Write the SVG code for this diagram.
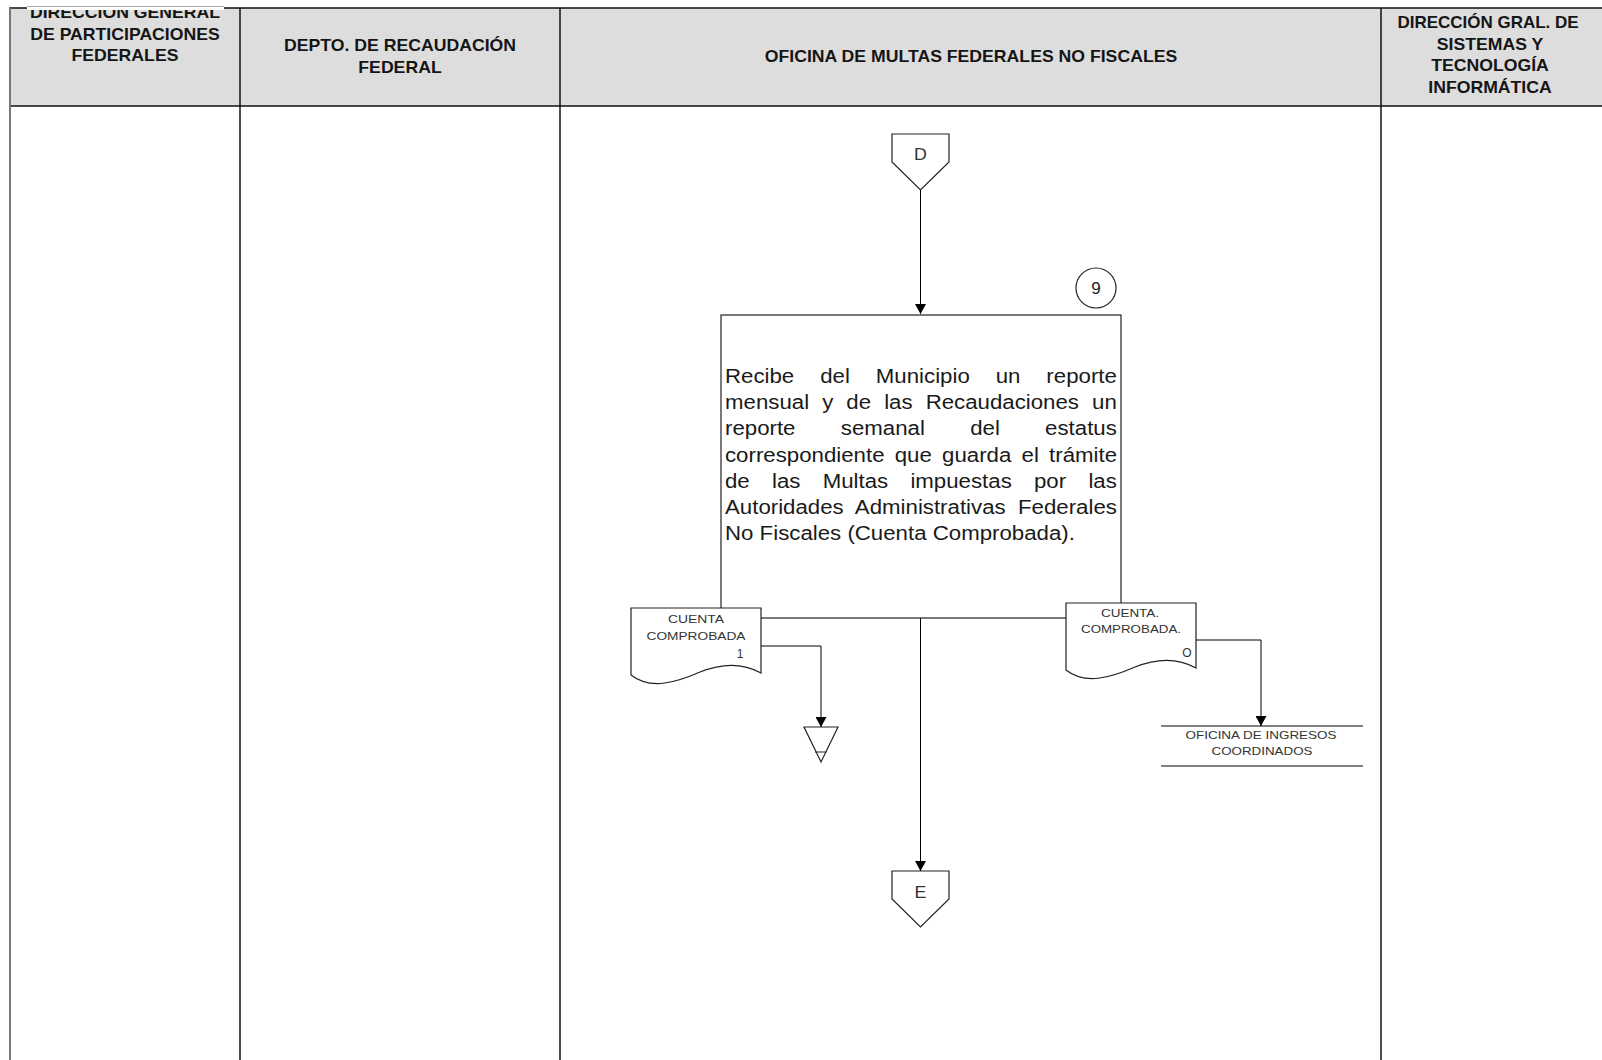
<svg xmlns="http://www.w3.org/2000/svg" width="1602" height="1060" viewBox="0 0 1602 1060">
<style>
.hdr{font-family:"Liberation Sans",Arial,sans-serif;font-weight:bold;font-size:16.5px;fill:#151515;text-anchor:middle}
.body{font-family:"Liberation Sans",Arial,sans-serif;font-size:21px;fill:#1a1a1a}
.sm{font-family:"Liberation Sans",Arial,sans-serif;font-size:11px;fill:#333;text-anchor:middle}
.ln{stroke:#000;stroke-width:1;fill:none}
.shape{fill:#fff;stroke:#222;stroke-width:1.2}
.lane{stroke:#111;stroke-width:1.5;fill:none}
</style>
<defs>
<marker id="ah" viewBox="0 0 10 11" refX="10" refY="5.5" markerUnits="userSpaceOnUse" markerWidth="10" markerHeight="11" orient="auto">
<path d="M0,0 L10,5.5 L0,11 Z" fill="#000"/>
</marker>
<path id="doc" d="M0,0 H130 V65 C114,56 94,54 69,64 C44,75 19,82 0,67 Z"/>
<clipPath id="clipTop"><rect x="0" y="10" width="300" height="100"/></clipPath>
</defs>

<g id="lanes">
<rect x="10" y="8" width="1600" height="98" fill="#dddddd" stroke="#111" stroke-width="1.5"/>
<rect x="27" y="5" width="197" height="5" fill="#fff"/>
<line x1="27" y1="6.5" x2="224" y2="6.5" stroke="#aaa" stroke-width="1"/>
<line x1="10" y1="8" x2="10" y2="1060" stroke="#777" stroke-width="2"/>
<line class="lane" x1="240" y1="8" x2="240" y2="1060"/>
<line class="lane" x1="560" y1="8" x2="560" y2="1060"/>
<line class="lane" x1="1381" y1="8" x2="1381" y2="1060"/>
<g id="lane1-title" clip-path="url(#clipTop)">
<text class="hdr" transform="translate(125,18) scale(1.07,1)">DIRECCIÓN GENERAL</text>
</g>
<text class="hdr" transform="translate(125,39.5) scale(1.07,1)">DE PARTICIPACIONES</text>
<text class="hdr" transform="translate(125,61) scale(1.07,1)">FEDERALES</text>
<text class="hdr" transform="translate(400,51) scale(1.07,1)">DEPTO. DE RECAUDACIÓN</text>
<text class="hdr" transform="translate(400,73) scale(1.07,1)">FEDERAL</text>
<text class="hdr" transform="translate(971,62) scale(1.07,1)">OFICINA DE MULTAS FEDERALES NO FISCALES</text>
<text class="hdr" transform="translate(1488,28) scale(1.03,1)">DIRECCIÓN GRAL. DE</text>
<text class="hdr" transform="translate(1490,49.5) scale(1.07,1)">SISTEMAS Y</text>
<text class="hdr" transform="translate(1490,71) scale(1.07,1)">TECNOLOGÍA</text>
<text class="hdr" transform="translate(1490,93) scale(1.07,1)">INFORMÁTICA</text>
</g>

<g id="connectors">
<path class="ln" d="M920.5,190 V314" marker-end="url(#ah)"/>
<path class="ln" d="M920.5,618 V871" marker-end="url(#ah)"/>
<path class="ln" d="M761,646 H821 V727" marker-end="url(#ah)"/>
<path class="ln" d="M1196,640 H1261 V726" marker-end="url(#ah)"/>
</g>

<g id="connector-D">
<polygon class="shape" points="892,134 949,134 949,162 920.5,190 892,162"/>
<text class="sm" x="920.5" y="160" style="font-size:17px" transform="translate(920.5,0) scale(1.05,1) translate(-920.5,0)">D</text>
</g>

<g id="step-9">
<rect class="shape" x="721" y="315" width="400" height="303"/>
<circle class="shape" cx="1096" cy="288" r="20"/>
<text class="sm" x="1096" y="294" style="font-size:17px;fill:#222">9</text>
<g transform="translate(725,0) scale(1.06,1)">
<text class="body" x="0" y="383" word-spacing="18.63">Recibe del Municipio un reporte</text>
<text class="body" x="0" y="409" word-spacing="6.49">mensual y de las Recaudaciones un</text>
<text class="body" x="0" y="435" word-spacing="36.89">reporte semanal del estatus</text>
<text class="body" x="0" y="462" word-spacing="3.8">correspondiente que guarda el trámite</text>
<text class="body" x="0" y="488" word-spacing="15.14">de las Multas impuestas por las</text>
<text class="body" x="0" y="514" word-spacing="5.8">Autoridades Administrativas Federales</text>
<text class="body" x="0" y="540">No Fiscales (Cuenta Comprobada).</text>
</g>
</g>

<g id="doc-cuenta-1">
<use href="#doc" x="631" y="608" class="shape"/>
<text class="sm" x="696" y="623" textLength="56" lengthAdjust="spacingAndGlyphs">CUENTA</text>
<text class="sm" x="696" y="640" textLength="99" lengthAdjust="spacingAndGlyphs">COMPROBADA</text>
<text class="sm" x="740" y="658" style="font-size:12px">1</text>
</g>

<g id="archive">
<polygon class="shape" points="804,727 838,727 821,762"/>
<line x1="815" y1="752" x2="826.5" y2="752" stroke="#222" stroke-width="1"/>
</g>

<g id="doc-cuenta-o">
<use href="#doc" x="1066" y="603" class="shape"/>
<text class="sm" x="1130" y="617" textLength="58" lengthAdjust="spacingAndGlyphs">CUENTA.</text>
<text class="sm" x="1131" y="633" textLength="100" lengthAdjust="spacingAndGlyphs">COMPROBADA.</text>
<text class="sm" x="1187" y="657" style="font-size:12px">O</text>
</g>

<g id="entity-oic">
<line x1="1161" y1="726" x2="1363" y2="726" stroke="#000" stroke-width="1"/>
<line x1="1161" y1="766" x2="1363" y2="766" stroke="#000" stroke-width="1"/>
<text class="sm" x="1261" y="739" textLength="151" lengthAdjust="spacingAndGlyphs">OFICINA DE INGRESOS</text>
<text class="sm" x="1262" y="755" textLength="101" lengthAdjust="spacingAndGlyphs">COORDINADOS</text>
</g>

<g id="connector-E">
<polygon class="shape" points="892,871 949,871 949,899 920.5,927 892,899"/>
<text class="sm" x="920.5" y="898" style="font-size:17px" transform="translate(920.5,0) scale(1.05,1) translate(-920.5,0)">E</text>
</g>
</svg>
